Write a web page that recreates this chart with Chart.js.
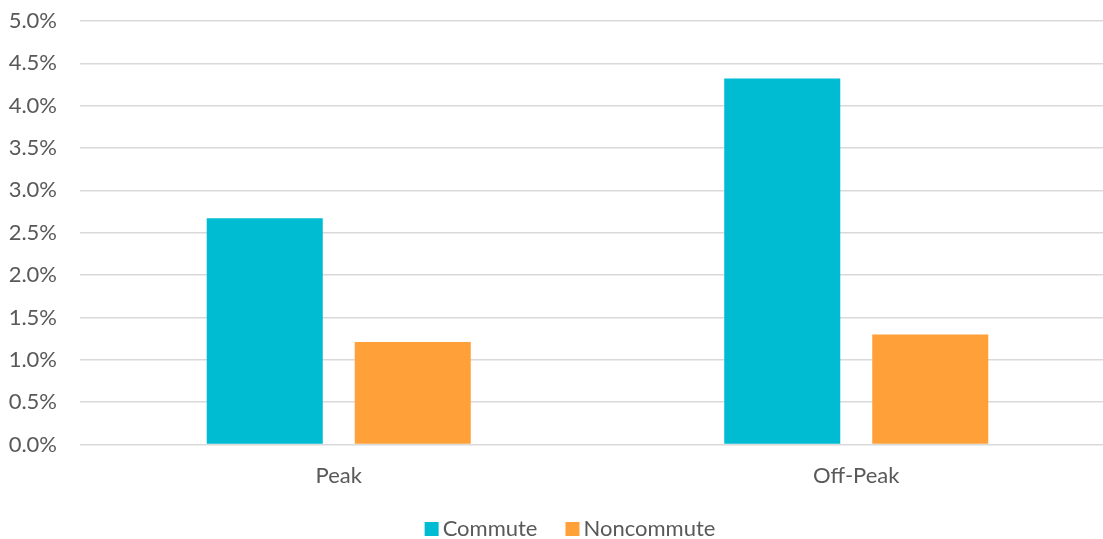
<!DOCTYPE html>
<html>
<head>
<meta charset="utf-8">
<script src="https://cdn.jsdelivr.net/npm/chart.js@4"></script>
<style>
  html, body { margin: 0; padding: 0; background: #ffffff; overflow: hidden; }
  #wrap { width: 1140px; height: 539px; }
</style>
</head>
<body>
<div id="wrap"><canvas id="chart" width="1140" height="539"></canvas></div>
<script>
// Share of trips by time of day (percent)
const categories = ['Peak', 'Off-Peak'];
const commute = [2.67, 4.32];
const noncommute = [1.21, 1.30];
const yTicks = [0, 0.5, 1, 1.5, 2, 2.5, 3, 3.5, 4, 4.5, 5];

const FONT = 'Lato, "Open Sans", sans-serif';
const TEXT = '#595959';
const SIZE = 22;

// Legend drawn centred under the axis labels
const bottomLegend = {
  id: 'bottomLegend',
  afterDraw(chart) {
    const ctx = chart.ctx;
    const box = 14, gapText = 4, gapItem = 28;
    ctx.save();
    ctx.font = SIZE + 'px ' + FONT;
    const items = chart.data.datasets.map(d => ({ label: d.label, color: d.backgroundColor, w: ctx.measureText(d.label).width }));
    const total = items.reduce((s, it) => s + box + gapText + it.w, 0) + gapItem * (items.length - 1);
    let x = chart.width / 2 - total / 2;
    const baseline = 536;
    items.forEach(it => {
      ctx.fillStyle = it.color;
      ctx.fillRect(x, baseline - box, box, box);
      x += box + gapText;
      ctx.fillStyle = TEXT;
      ctx.textBaseline = 'alphabetic';
      ctx.textAlign = 'left';
      ctx.fillText(it.label, x, baseline);
      x += it.w + gapItem;
    });
    ctx.restore();
  }
};

new Chart(document.getElementById('chart'), {
  type: 'bar',
  data: {
    labels: categories,
    datasets: [
      { label: 'Commute', data: commute, backgroundColor: '#00BCD2', categoryPercentage: 0.572, barPercentage: 0.784 },
      { label: 'Noncommute', data: noncommute, backgroundColor: '#FFA038', categoryPercentage: 0.572, barPercentage: 0.784 }
    ]
  },
  options: {
    responsive: false,
    animation: false,
    layout: { padding: { top: 21, right: 25, bottom: 44.5, left: 0 } },
    plugins: { legend: { display: false }, tooltip: { enabled: false } },
    scales: {
      x: {
        grid: { display: false, drawTicks: false },
        border: { display: false },
        ticks: { color: TEXT, font: { family: FONT, size: SIZE }, padding: 18 },
        afterFit(scale) { scale.height = 50; scale.paddingLeft = 0; scale.paddingRight = 0; }
      },
      y: {
        min: 0,
        max: 5,
        afterBuildTicks(scale) { scale.ticks = yTicks.map(v => ({ value: v })); },
        grid: { color: '#D9D9D9', lineWidth: 1.4, drawTicks: false },
        border: { display: false },
        ticks: {
          color: TEXT,
          font: { family: FONT, size: SIZE },
          padding: 23,
          callback: v => Number(v).toFixed(1) + '%'
        },
        afterFit(scale) { scale.width = 80; scale.paddingTop = 0; scale.paddingBottom = 0; }
      }
    }
  },
  plugins: [bottomLegend]
});
</script>
</body>
</html>
